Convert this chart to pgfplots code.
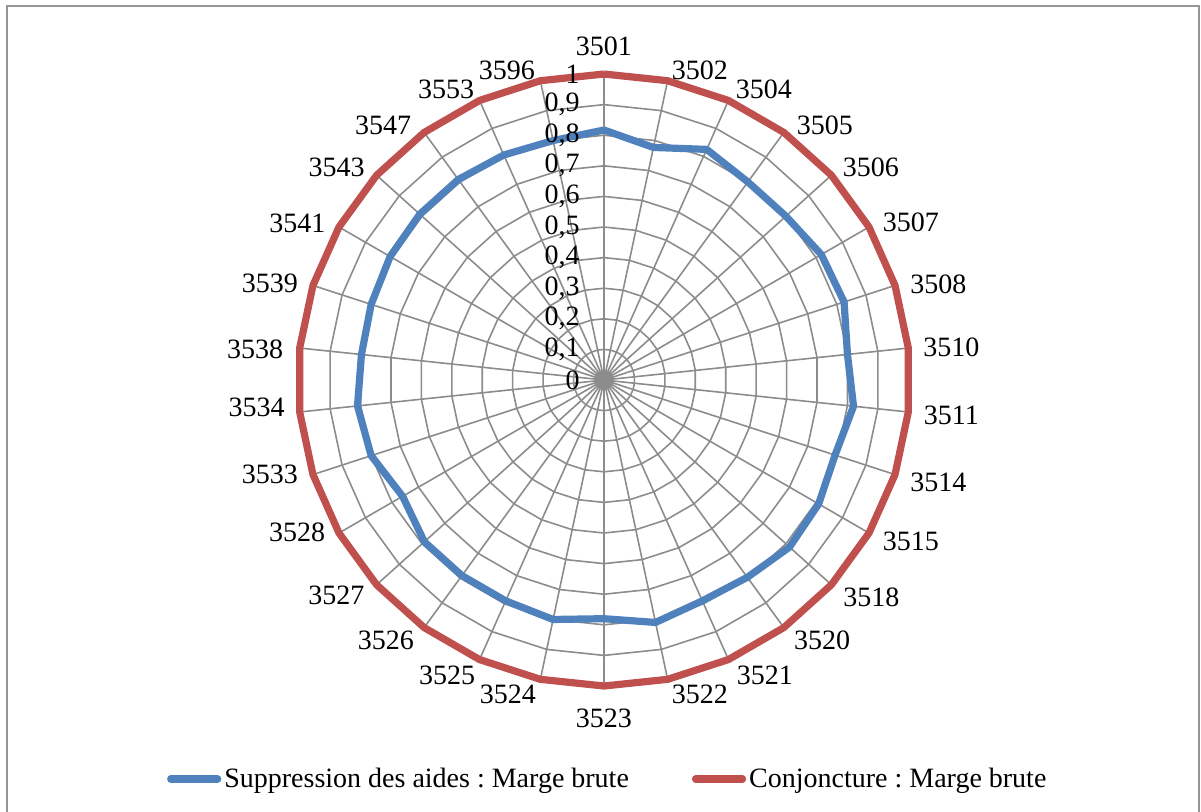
\documentclass[border=0pt]{standalone}
\usepackage{fontspec}
\setmainfont{Liberation Serif}
\usepackage{pgfplots}
\usepackage{pgfplotstable}
\usepgfplotslibrary{polar}
\pgfplotsset{compat=1.18}
\frenchspacing

\definecolor{suppblue}{RGB}{79,129,189}
\definecolor{conjred}{RGB}{192,80,77}
\definecolor{gridgray}{RGB}{140,140,140}
\definecolor{framegray}{RGB}{150,150,150}

% angle (deg, 3501 on top, clockwise), category, two series
\pgfplotstableread{
angle cat  supp  conj
90    3501 0.817 1
78    3502 0.777 1
66    3504 0.825 1
54    3505 0.800 1
42    3506 0.800 1
30    3507 0.820 1
18    3508 0.825 1
6     3510 0.800 1
354   3511 0.820 1
342   3514 0.794 1
330   3515 0.810 1
318   3518 0.816 1
306   3520 0.797 1
294   3521 0.790 1
282   3522 0.810 1
270   3523 0.780 1
258   3524 0.800 1
246   3525 0.790 1
234   3526 0.790 1
222   3527 0.790 1
210   3528 0.760 1
198   3533 0.800 1
186   3534 0.810 1
174   3538 0.797 1
162   3539 0.800 1
150   3541 0.807 1
138   3543 0.810 1
126   3547 0.810 1
114   3553 0.805 1
102   3596 0.800 1
90    3501 0.817 1
}\radardata

\newcommand\lbl{\fontsize{14}{16}\selectfont}

\begin{document}
\begin{tikzpicture}
\useasboundingbox (0,0) rectangle (600.5pt,-405.5pt);
\draw[framegray, line width=1.2pt] (3.5pt,-420pt) -- (3.5pt,-3pt) -- (599.6pt,-3pt) -- (599.6pt,-420pt);
\begin{polaraxis}[
    at={(302pt,-190pt)}, anchor=center,
    scale only axis,
    width=306pt, height=306pt,
    ymin=0, ymax=1,
    ytick=\empty,
    xtick={6,18,...,354},
    xticklabels={},
    xmajorgrids,
    major grid style={gridgray, line width=0.8pt},
    axis line style={draw=none},
    tick style={draw=none},
    clip=false,
    legend style={at={(0.507,-0.152)}, anchor=center, draw=none, font=\lbl,
        legend columns=2,
        /tikz/every even column/.append style={column sep=30pt},
        nodes={inner sep=1.5pt}},
    legend cell align=left,
    legend image code/.code={\draw[#1, line cap=round] (1.5pt,0pt) -- (25pt,0pt);},
]
\pgfplotsinvokeforeach{0.1,0.2,0.3,0.4,0.5,0.6,0.7,0.8,0.9,1}{
  \draw[gridgray, line width=0.8pt] (axis cs:6,#1)
    \foreach \a in {18,30,...,354} { -- (axis cs:\a,#1) } -- cycle;
}
\addplot[suppblue, line width=3.6pt, line join=round] table[x=angle, y=supp] {\radardata};
\addlegendentry{Suppression des aides : Marge brute}
\addplot[conjred, line width=3.6pt, line join=round] table[x=angle, y=conj] {\radardata};
\addlegendentry{Conjoncture : Marge brute}
% radial value labels along the top spoke
\pgfplotsinvokeforeach{0,0.1,0.2,0.3,0.4,0.5,0.6,0.7,0.8,0.9,1}{
  \node[anchor=east, font=\lbl, inner sep=0pt, xshift=-12pt] at (axis cs:90,#1)
    {\pgfmathprintnumber[fixed, precision=1, use comma, assume math mode=true]{#1}};
}
% category labels: name / angle / radius of the label centre
\foreach \c/\a/\r in {3501/90/1.090, 3502/72.8/1.060, 3504/61.2/1.085, 3505/49.1/1.103,
    3506/38.6/1.116, 3507/27.2/1.128, 3508/16.0/1.137, 3510/5.3/1.140,
    3511/354.2/1.141, 3514/343.0/1.143, 3515/332.2/1.134, 3518/320.9/1.126,
    3520/310.0/1.109, 3521/298.6/1.098, 3522/287.0/1.073, 3523/270/1.105,
    3524/253.0/1.073, 3525/242.0/1.092, 3526/230.0/1.109, 3527/218.8/1.122,
    3528/206.4/1.120, 3533/195.7/1.134, 3534/184.5/1.139, 3538/174.9/1.145,
    3539/163.8/1.137, 3541/153.0/1.125, 3543/141.5/1.117, 3547/130.9/1.103,
    3553/118.5/1.082, 3596/107.4/1.061}{
  \edef\temp{\noexpand\node[font=\noexpand\lbl, anchor=center, inner sep=0pt]
    at (axis cs:\a,\r) {\c};}
  \temp
}
\end{polaraxis}
\end{tikzpicture}
\end{document}
